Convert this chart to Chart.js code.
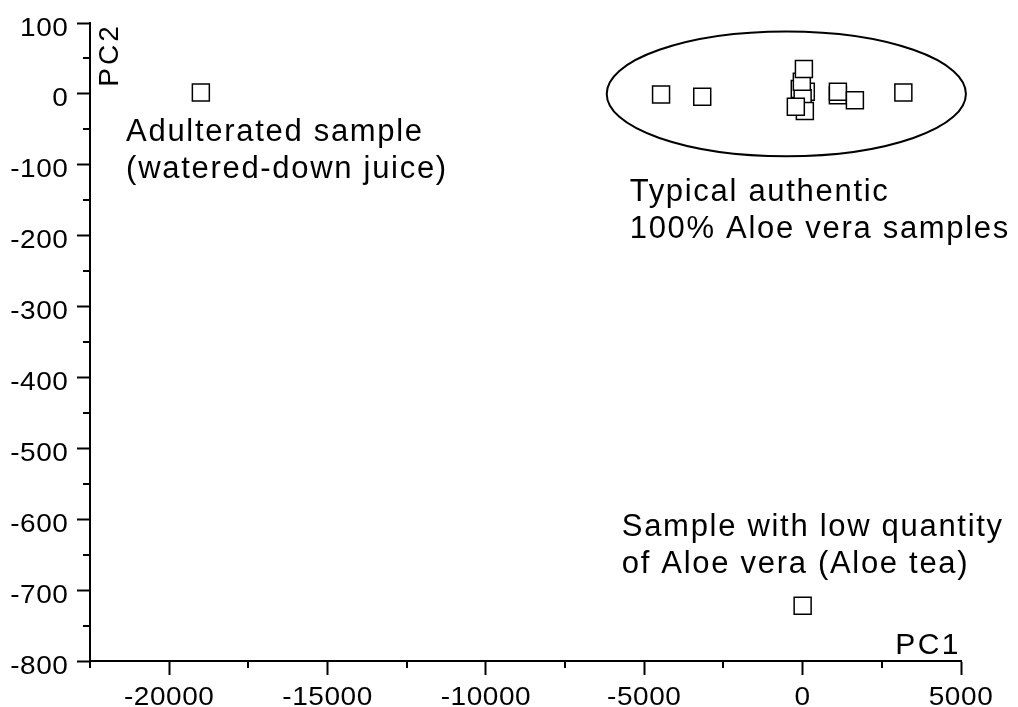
<!DOCTYPE html>
<html>
<head>
<meta charset="utf-8">
<script src="https://cdn.jsdelivr.net/npm/chart.js@4"></script>
<style>
  html, body { margin: 0; padding: 0; background: #fff; }
  #wrap { width: 1018px; height: 707px; }
</style>
</head>
<body>
<div id="wrap"><canvas id="pca-scores-chart" width="1018" height="707"></canvas></div>
<script>
// PC1 / PC2 scores
var authenticPC1 = [-4470, -3170, -90, 100, 0, 70, -215, -25, 40, 1113, 1113, 1650, 3180];
var authenticPC2 = [-1, -4, 7, 3, -6, -24, -18, 17, 35, -2, 3, -9, 2];
var adulteratedPC1 = [-19000];
var adulteratedPC2 = [2];
var aloeTeaPC1 = [0];
var aloeTeaPC2 = [-722];

// axis ranges and tick steps
var pc1Range = [-22500, 5000];
var pc2Range = [-800, 100];
var pc1Step = 2500, pc1Major = 5000;
var pc2Step = 50, pc2Major = 100;

// group ellipse around the authentic samples (centre and half axes in PC units)
var ringCentre = [-515, 0];
var ringHalf = [5670, 88];

// text notes, anchored at PC coordinates (left edge, first baseline)
var noteLines = [
  ['Adulterated sample', '(watered-down juice)'],
  ['Typical authentic', '100% Aloe vera samples'],
  ['Sample with low quantity', 'of Aloe vera (Aloe tea)']
];
var noteAnchorPC1 = [-21360, -5460, -5710];
var noteAnchorPC2 = [-66, -151, -624];

var FONT = '"Liberation Sans", Arial, sans-serif';
var TICK_STRETCH = 1.12;

function toPoints(xs, ys) {
  return xs.map(function(x, i){ return { x: x, y: ys[i] }; });
}

function isMajor(value, major) {
  return Math.abs(value % major) < 1e-6;
}

// tick labels in the original figure are drawn slightly widened
function stretchedText(ctx, text, x, y, align) {
  ctx.save();
  ctx.translate(x, y);
  ctx.scale(TICK_STRETCH, 1);
  ctx.textAlign = align;
  ctx.fillText(text, 0, 0);
  ctx.restore();
}

var pcaDecor = {
  id: 'pcaDecor',
  beforeDatasetsDraw: function(chart) {
    var ctx = chart.ctx, xs = chart.scales.x, ys = chart.scales.y;
    ctx.save();
    ctx.strokeStyle = '#000';
    ctx.fillStyle = '#000';
    ctx.lineWidth = 2;

    // minor ticks + major labels
    ctx.font = '25px ' + FONT;
    ctx.letterSpacing = '0.5px';
    ctx.textBaseline = 'alphabetic';
    xs.ticks.forEach(function(t){
      var px = xs.getPixelForValue(t.value);
      if (isMajor(t.value, pc1Major)) {
        stretchedText(ctx, String(t.value), px, xs.top + 44, 'center');
      } else {
        px = Math.round(px);
        ctx.beginPath(); ctx.moveTo(px, xs.top); ctx.lineTo(px, xs.top + 7); ctx.stroke();
      }
    });
    ys.ticks.forEach(function(t){
      var py = ys.getPixelForValue(t.value);
      if (isMajor(t.value, pc2Major)) {
        stretchedText(ctx, String(t.value), ys.right - 21.5, py + 12.5, 'right');
      } else {
        py = Math.round(py);
        ctx.beginPath(); ctx.moveTo(ys.right, py); ctx.lineTo(ys.right - 7, py); ctx.stroke();
      }
    });

    // ellipse
    var cx = xs.getPixelForValue(ringCentre[0]);
    var cy = ys.getPixelForValue(ringCentre[1]);
    var rx = Math.abs(xs.getPixelForValue(ringCentre[0] + ringHalf[0]) - cx);
    var ry = Math.abs(ys.getPixelForValue(ringCentre[1] + ringHalf[1]) - cy);
    ctx.beginPath();
    ctx.ellipse(cx, cy, rx, ry, 0, 0, 2 * Math.PI);
    ctx.stroke();

    // notes
    ctx.font = '31px ' + FONT;
    ctx.letterSpacing = '1.7px';
    ctx.textAlign = 'left';
    noteLines.forEach(function(lines, i){
      var lx = xs.getPixelForValue(noteAnchorPC1[i]);
      var ly = ys.getPixelForValue(noteAnchorPC2[i]);
      lines.forEach(function(line, j){ ctx.fillText(line, lx, ly + j * 37); });
    });

    // axis names
    var area = chart.chartArea;
    ctx.font = '30px ' + FONT;
    ctx.letterSpacing = '2.5px';
    ctx.textAlign = 'right';
    ctx.fillText('PC1', area.right, area.bottom - 7);

    ctx.font = '28px ' + FONT;
    ctx.letterSpacing = '3px';
    ctx.translate(area.left + 28, area.top + 32);
    ctx.rotate(-Math.PI / 2);
    ctx.textAlign = 'center';
    ctx.fillText('PC2', 0, 0);
    ctx.restore();
  }
};

var markerStyle = {
  pointStyle: 'rect',
  pointRadius: 12,
  pointBorderWidth: 1.5,
  pointBorderColor: '#000',
  pointBackgroundColor: '#fff',
  showLine: false
};

var ctx = document.getElementById('pca-scores-chart');
var pcaChart = new Chart(ctx, {
  type: 'scatter',
  data: {
    datasets: [
      Object.assign({ label: 'Authentic', data: toPoints(authenticPC1, authenticPC2) }, markerStyle),
      Object.assign({ label: 'Adulterated', data: toPoints(adulteratedPC1, adulteratedPC2) }, markerStyle),
      Object.assign({ label: 'Aloe tea', data: toPoints(aloeTeaPC1, aloeTeaPC2) }, markerStyle)
    ]
  },
  options: {
    responsive: false,
    animation: false,
    layout: { padding: { top: 23, right: 57, left: 0, bottom: 0 } },
    plugins: { legend: { display: false }, tooltip: { enabled: false } },
    scales: {
      x: {
        type: 'linear',
        min: pc1Range[0],
        max: pc1Range[1],
        afterFit: function(scale){ scale.height = 46; },
        border: { display: true, color: '#000', width: 2 },
        grid: {
          drawOnChartArea: false,
          drawTicks: true,
          tickLength: 14,
          tickWidth: 2,
          tickColor: function(c){ return c.tick && isMajor(c.tick.value, pc1Major) ? '#000' : 'rgba(0,0,0,0)'; }
        },
        ticks: {
          display: false,
          stepSize: pc1Step,
          maxTicksLimit: 100,
          autoSkip: false
        }
      },
      y: {
        type: 'linear',
        min: pc2Range[0],
        max: pc2Range[1],
        afterFit: function(scale){ scale.width = 90; },
        border: { display: true, color: '#000', width: 2 },
        grid: {
          drawOnChartArea: false,
          drawTicks: true,
          tickLength: 13,
          tickWidth: 2,
          tickColor: function(c){ return c.tick && isMajor(c.tick.value, pc2Major) ? '#000' : 'rgba(0,0,0,0)'; }
        },
        ticks: {
          display: false,
          stepSize: pc2Step,
          maxTicksLimit: 100,
          autoSkip: false
        }
      }
    }
  },
  plugins: [pcaDecor]
});
</script>
</body>
</html>
